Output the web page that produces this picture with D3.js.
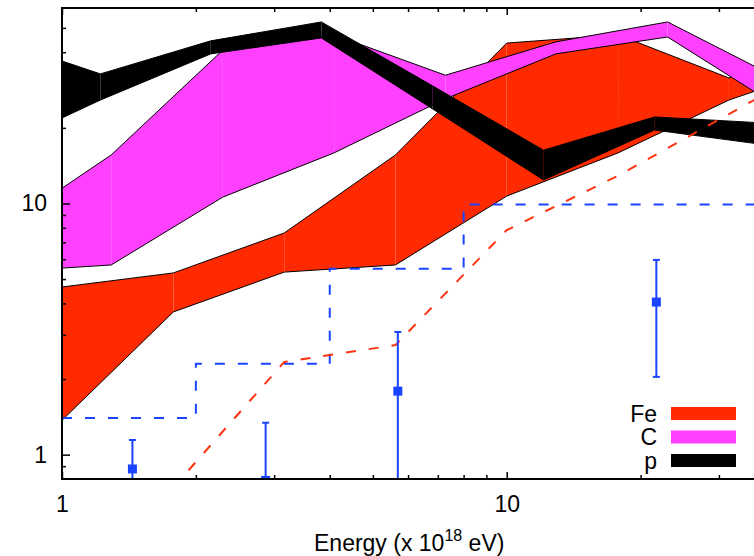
<!DOCTYPE html>
<html>
<head>
<meta charset="utf-8">
<script src="https://cdn.jsdelivr.net/npm/d3@7"></script>
<style>
  body { margin: 0; background: #fff; }
  svg { display: block; font-family: "Liberation Sans", Arial, sans-serif; }
</style>
</head>
<body>
<div id="chart"></div>
<script>
const FRAME_WIDTH = 754;
const FRAME_HEIGHT = 556;
// plot runs a little past the right edge of the window, like the original
const PLOT = { left: 62, right: 762, top: 8, bottom: 479 };

// bands (energy in 1e18 eV, upper / lower edge)
const FE_X = [1, 1.78, 3.16, 5.62, 10, 17.8, 31.6, 56.2];
const FE_HIGH = [4.65, 5.29, 7.63, 15.6, 43.5, 46.9, 31.6, 51.4];
const FE_LOW = [1.37, 3.7, 5.33, 5.69, 10.7, 15.9, 25.8, 36.6];

const C_X = [1, 1.29, 2.3, 4.09, 7.28, 12.9, 23.0, 40.9];
const C_HIGH = [11.5, 15.6, 40.8, 46.9, 32.4, 44.0, 52.8, 31.4];
const C_LOW = [5.53, 5.69, 10.6, 15.9, 26.1, 39.4, 46.0, 24.2];

const P_X = [1, 1.22, 2.16, 3.83, 6.81, 12.1, 21.5, 38.3];
const P_HIGH = [36.9, 32.8, 44.4, 52.8, 29.4, 16.3, 22.1, 20.9];
const P_LOW = [21.9, 25.8, 39.4, 45.6, 23.8, 12.4, 19.6, 17.1];

// blue dashed steps
const STEP_X = [1, 2, 4, 8, 40];
const STEP_Y = [1.4, 2.3, 5.5, 9.9, 9.9];

// red dashed curve
const MODEL_X = [1.78, 3.16, 5.62, 10, 17.8, 31.6, 56.2];
const MODEL_Y = [0.74, 2.34, 2.73, 7.83, 12.9, 22.7, 40.1];

// blue points with error bars
const OBS_X = [1.44, 2.87, 5.69, 21.7];
const OBS_Y = [0.877, 0.79, 1.79, 4.05];
const OBS_HIGH = [1.144, 1.34, 3.08, 5.96];
const OBS_LOW = [0.5, 0.5, 0.5, 2.04];

const X_MAJOR = [1, 10];
const X_MINOR = [2, 3, 4, 5, 6, 7, 8, 9, 20, 30];
const Y_MAJOR = [1, 10];
const Y_MINOR = [0.9, 2, 3, 4, 5, 6, 7, 8, 9, 20, 30, 40, 50];

const LEGEND_NAMES = ["Fe", "C", "p"];
const COLORS = { Fe: "#ff2a00", C: "#ff40ff", p: "#000000" };
const BLUE = "#1a44ff";
const FONT_SIZE = 23;

const X_SCALE = d3.scaleLog().domain([1, 37.5]).range([PLOT.left, PLOT.right]);
const Y_SCALE = d3.scaleLog().domain([0.8, 60]).range([PLOT.bottom, PLOT.top]);

const FRAME = d3
  .select("#chart")
  .append("svg")
  .attr("width", FRAME_WIDTH)
  .attr("height", FRAME_HEIGHT);

FRAME.append("clipPath")
  .attr("id", "plot-clip")
  .append("rect")
  .attr("x", PLOT.left)
  .attr("y", PLOT.top)
  .attr("width", PLOT.right - PLOT.left)
  .attr("height", PLOT.bottom - PLOT.top);

const PLOT_G = FRAME.append("g").attr("clip-path", "url(#plot-clip)");

function drawBand(xs, highs, lows, color) {
  const pts = xs.map((x, i) => ({ x: x, hi: highs[i], lo: lows[i] }));
  const area = d3
    .area()
    .x((d) => X_SCALE(d.x))
    .y0((d) => Y_SCALE(d.lo))
    .y1((d) => Y_SCALE(d.hi));
  // one polygon per segment, gives the faint seams of the original
  const g = PLOT_G.append("g");
  for (let i = 0; i < pts.length - 1; i++) {
    g.append("path").attr("d", area([pts[i], pts[i + 1]])).attr("fill", color);
  }
  const edgeHi = d3.line().x((d) => X_SCALE(d.x)).y((d) => Y_SCALE(d.hi));
  const edgeLo = d3.line().x((d) => X_SCALE(d.x)).y((d) => Y_SCALE(d.lo));
  g.append("path").attr("d", edgeHi(pts)).attr("fill", "none").attr("stroke", "#000").attr("stroke-width", 1);
  g.append("path").attr("d", edgeLo(pts)).attr("fill", "none").attr("stroke", "#000").attr("stroke-width", 1);
}

drawBand(FE_X, FE_HIGH, FE_LOW, COLORS.Fe);
drawBand(C_X, C_HIGH, C_LOW, COLORS.C);
drawBand(P_X, P_HIGH, P_LOW, COLORS.p);

// blue step line
const stepLine = d3
  .line()
  .x((d) => X_SCALE(d[0]))
  .y((d) => Y_SCALE(d[1]))
  .curve(d3.curveStepAfter);
PLOT_G.append("path")
  .attr("d", stepLine(STEP_X.map((x, i) => [x, STEP_Y[i]])))
  .attr("fill", "none")
  .attr("stroke", BLUE)
  .attr("stroke-width", 2)
  .attr("stroke-dasharray", "10,13");

// red dashed model
const modelLine = d3
  .line()
  .x((d) => X_SCALE(d[0]))
  .y((d) => Y_SCALE(d[1]));
PLOT_G.append("path")
  .attr("d", modelLine(MODEL_X.map((x, i) => [x, MODEL_Y[i]])))
  .attr("fill", "none")
  .attr("stroke", "#ff3311")
  .attr("stroke-width", 2)
  .attr("stroke-dasharray", "10,13");

// error bars
const OBS = OBS_X.map((x, i) => ({ x: x, y: OBS_Y[i], hi: OBS_HIGH[i], lo: OBS_LOW[i] }));
const obsG = PLOT_G.append("g").attr("stroke", BLUE).attr("stroke-width", 2);
OBS.forEach((d) => {
  const cx = X_SCALE(d.x);
  obsG.append("line").attr("x1", cx).attr("x2", cx).attr("y1", Y_SCALE(d.lo)).attr("y2", Y_SCALE(d.hi));
  obsG.append("line").attr("x1", cx - 3.5).attr("x2", cx + 3.5).attr("y1", Y_SCALE(d.hi)).attr("y2", Y_SCALE(d.hi));
  obsG.append("line").attr("x1", cx - 3.5).attr("x2", cx + 3.5).attr("y1", Y_SCALE(d.lo)).attr("y2", Y_SCALE(d.lo));
});
PLOT_G.selectAll(".obs")
  .data(OBS)
  .enter()
  .append("rect")
  .attr("class", "obs")
  .attr("x", (d) => X_SCALE(d.x) - 4.5)
  .attr("y", (d) => Y_SCALE(d.y) - 4.5)
  .attr("width", 9)
  .attr("height", 9)
  .attr("fill", BLUE);

// axes, ticks point inwards
function styleAxis(g) {
  g.select(".domain").remove();
  g.selectAll("line").attr("stroke", "#000").attr("stroke-width", 1.5);
  g.selectAll("text").attr("fill", "#000").style("font-size", FONT_SIZE + "px");
}

FRAME.append("g")
  .attr("transform", `translate(0,${PLOT.bottom})`)
  .call(d3.axisBottom(X_SCALE).tickValues(X_MAJOR).tickSize(-7).tickPadding(17).tickFormat(d3.format("d")))
  .call(styleAxis);
FRAME.append("g")
  .attr("transform", `translate(0,${PLOT.bottom})`)
  .call(d3.axisBottom(X_SCALE).tickValues(X_MINOR).tickSize(-4).tickFormat(""))
  .call(styleAxis);
FRAME.append("g")
  .attr("transform", `translate(0,${PLOT.top})`)
  .call(d3.axisTop(X_SCALE).tickValues(X_MAJOR).tickSize(-7).tickFormat(""))
  .call(styleAxis);
FRAME.append("g")
  .attr("transform", `translate(0,${PLOT.top})`)
  .call(d3.axisTop(X_SCALE).tickValues(X_MINOR).tickSize(-4).tickFormat(""))
  .call(styleAxis);
FRAME.append("g")
  .attr("transform", `translate(${PLOT.left},0)`)
  .call(d3.axisLeft(Y_SCALE).tickValues(Y_MAJOR).tickSize(-8).tickPadding(15).tickFormat(d3.format("d")))
  .call(styleAxis);
FRAME.append("g")
  .attr("transform", `translate(${PLOT.left},0)`)
  .call(d3.axisLeft(Y_SCALE).tickValues(Y_MINOR).tickSize(-4).tickFormat(""))
  .call(styleAxis);

// frame
FRAME.append("path")
  .attr("d", `M${PLOT.right},${PLOT.top}H${PLOT.left}V${PLOT.bottom}H${PLOT.right}`)
  .attr("fill", "none")
  .attr("stroke", "#000")
  .attr("stroke-width", 2);

// x title
const title = FRAME.append("text")
  .attr("x", 314)
  .attr("y", 551)
  .style("font-size", FONT_SIZE + "px")
  .attr("fill", "#000");
title.append("tspan").text("Energy (x 10");
title.append("tspan").attr("dy", -10).style("font-size", "16px").text("18");
title.append("tspan").attr("dy", 10).text(" eV)");

// legend
const LEGEND_Y = d3.scalePoint().domain(LEGEND_NAMES).range([413.5, 460.5]);
const legend = FRAME.selectAll(".legend")
  .data(LEGEND_NAMES)
  .enter()
  .append("g")
  .attr("class", "legend")
  .attr("transform", (d) => `translate(0,${LEGEND_Y(d)})`);
legend.append("text")
  .attr("x", 657)
  .attr("dy", "0.35em")
  .attr("text-anchor", "end")
  .style("font-size", FONT_SIZE + "px")
  .text((d) => d);
legend.append("rect")
  .attr("x", 671)
  .attr("y", -6.5)
  .attr("width", 65)
  .attr("height", 13)
  .attr("fill", (d) => COLORS[d]);
</script>
</body>
</html>
